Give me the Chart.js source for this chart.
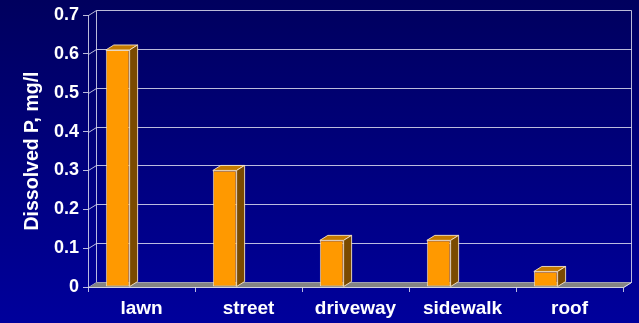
<!DOCTYPE html>
<html>
<head>
<meta charset="utf-8">
<script src="https://cdn.jsdelivr.net/npm/chart.js@4/dist/chart.umd.min.js"></script>
<style>
  html, body { margin: 0; padding: 0; background: #00007a; }
  canvas { display: block; }
</style>
</head>
<body>
<canvas id="c" width="639" height="323"></canvas>
<script>
// Dissolved phosphorus in runoff by source area
const categories = ['lawn', 'street', 'driveway', 'sidewalk', 'roof'];
const dissolvedP = [0.61, 0.30, 0.12, 0.12, 0.04];
const yMin = 0;
const yMax = 0.7;
const yStep = 0.1;
const yTitle = 'Dissolved P, mg/l';

// depth of the 3-D box (pixels, right and up)
const DX = 8, DY = -5;
const LINE = 'rgba(220,220,238,0.85)';
const FONT = 'Liberation Sans, Arial, Helvetica, sans-serif';

const depthPlugin = {
  id: 'depth3d',
  beforeDraw(chart) {
    const { ctx, width, height } = chart;
    const g = ctx.createLinearGradient(0, 0, 0, height);
    g.addColorStop(0, '#00005e');
    g.addColorStop(1, '#00009c');
    ctx.save();
    ctx.fillStyle = g;
    ctx.fillRect(0, 0, width, height);
    ctx.restore();
  },
  beforeDatasetsDraw(chart) {
    const { ctx, chartArea: a, scales: { y } } = chart;
    ctx.save();
    ctx.lineWidth = 1;
    ctx.strokeStyle = LINE;
    const L = a.left + 0.5, R = a.right + 0.5;
    // back wall grid lines with the slanted left-wall segments
    y.ticks.forEach(t => {
      const py = Math.round(y.getPixelForValue(t.value)) + 0.5;
      ctx.beginPath();
      ctx.moveTo(L, py);
      ctx.lineTo(L + DX, py + DY);
      ctx.lineTo(R + DX, py + DY);
      ctx.stroke();
    });
    const top = Math.round(a.top) + 0.5, bot = Math.round(a.bottom) + 0.5;
    // back wall verticals
    ctx.beginPath();
    ctx.moveTo(L + DX, top + DY);
    ctx.lineTo(L + DX, bot + DY);
    ctx.moveTo(R + DX, top + DY);
    ctx.lineTo(R + DX, bot + DY);
    ctx.lineTo(R, bot);
    ctx.stroke();
    // floor
    ctx.fillStyle = '#848484';
    ctx.beginPath();
    ctx.moveTo(L, bot);
    ctx.lineTo(R, bot);
    ctx.lineTo(R + DX, bot + DY);
    ctx.lineTo(L + DX, bot + DY);
    ctx.closePath();
    ctx.fill();
    ctx.strokeStyle = 'rgba(225,225,235,0.9)';
    ctx.beginPath();
    ctx.moveTo(L, bot);
    ctx.lineTo(R, bot);
    ctx.lineTo(R + DX, bot + DY);
    ctx.stroke();
    ctx.restore();
  },
  afterDatasetsDraw(chart) {
    const { ctx } = chart;
    const meta = chart.getDatasetMeta(0);
    ctx.save();
    ctx.lineWidth = 1;
    ctx.strokeStyle = 'rgba(255,236,205,0.85)';
    meta.data.forEach(bar => {
      const { x, y, base, width } = bar.getProps(['x', 'y', 'base', 'width'], true);
      const l = x - width / 2, r = x + width / 2;
      // top face
      ctx.fillStyle = '#c47a00';
      ctx.beginPath();
      ctx.moveTo(l, y);
      ctx.lineTo(l + DX, y + DY);
      ctx.lineTo(r + DX, y + DY);
      ctx.lineTo(r, y);
      ctx.closePath();
      ctx.fill();
      ctx.stroke();
      // side face
      ctx.fillStyle = '#7a4a00';
      ctx.beginPath();
      ctx.moveTo(r, y);
      ctx.lineTo(r + DX, y + DY);
      ctx.lineTo(r + DX, base + DY);
      ctx.lineTo(r, base);
      ctx.closePath();
      ctx.fill();
      ctx.stroke();
    });
    ctx.restore();
  }
};

new Chart(document.getElementById('c'), {
  type: 'bar',
  data: {
    labels: categories,
    datasets: [
      {
        data: dissolvedP,
        backgroundColor: '#ff9900',
        borderColor: 'rgba(255,236,205,0.85)',
        borderWidth: 1,
        borderSkipped: false
      },
      // two unused series slots keep the bar in the first third of each group
      { data: [] },
      { data: [] }
    ]
  },
  options: {
    responsive: false,
    animation: false,
    events: [],
    layout: { padding: { left: 17, right: 16, top: 15, bottom: 0 } },
    datasets: {
      bar: { categoryPercentage: 2 / 3, barPercentage: 1 }
    },
    plugins: {
      legend: { display: false },
      tooltip: { enabled: false }
    },
    scales: {
      x: {
        grid: { offset: true, drawOnChartArea: false, drawTicks: true, tickLength: 5, tickColor: LINE },
        border: { display: false },
        ticks: { color: '#ffffff', padding: 5, font: { family: FONT, weight: 'bold', size: 19 } },
        afterFit(s) { s.height = 36; }
      },
      y: {
        min: yMin,
        max: yMax,
        ticks: { stepSize: yStep, color: '#ffffff', padding: 4, font: { family: FONT, weight: 'bold', size: 18 } },
        grid: { drawOnChartArea: false, drawTicks: true, tickLength: 5, tickColor: LINE },
        border: { display: true, color: LINE },
        title: { display: true, text: yTitle, color: '#ffffff', font: { family: FONT, weight: 'bold', size: 19.5 } },
        afterFit(s) { s.width = 71; }
      }
    }
  },
  plugins: [depthPlugin]
});
</script>
</body>
</html>
